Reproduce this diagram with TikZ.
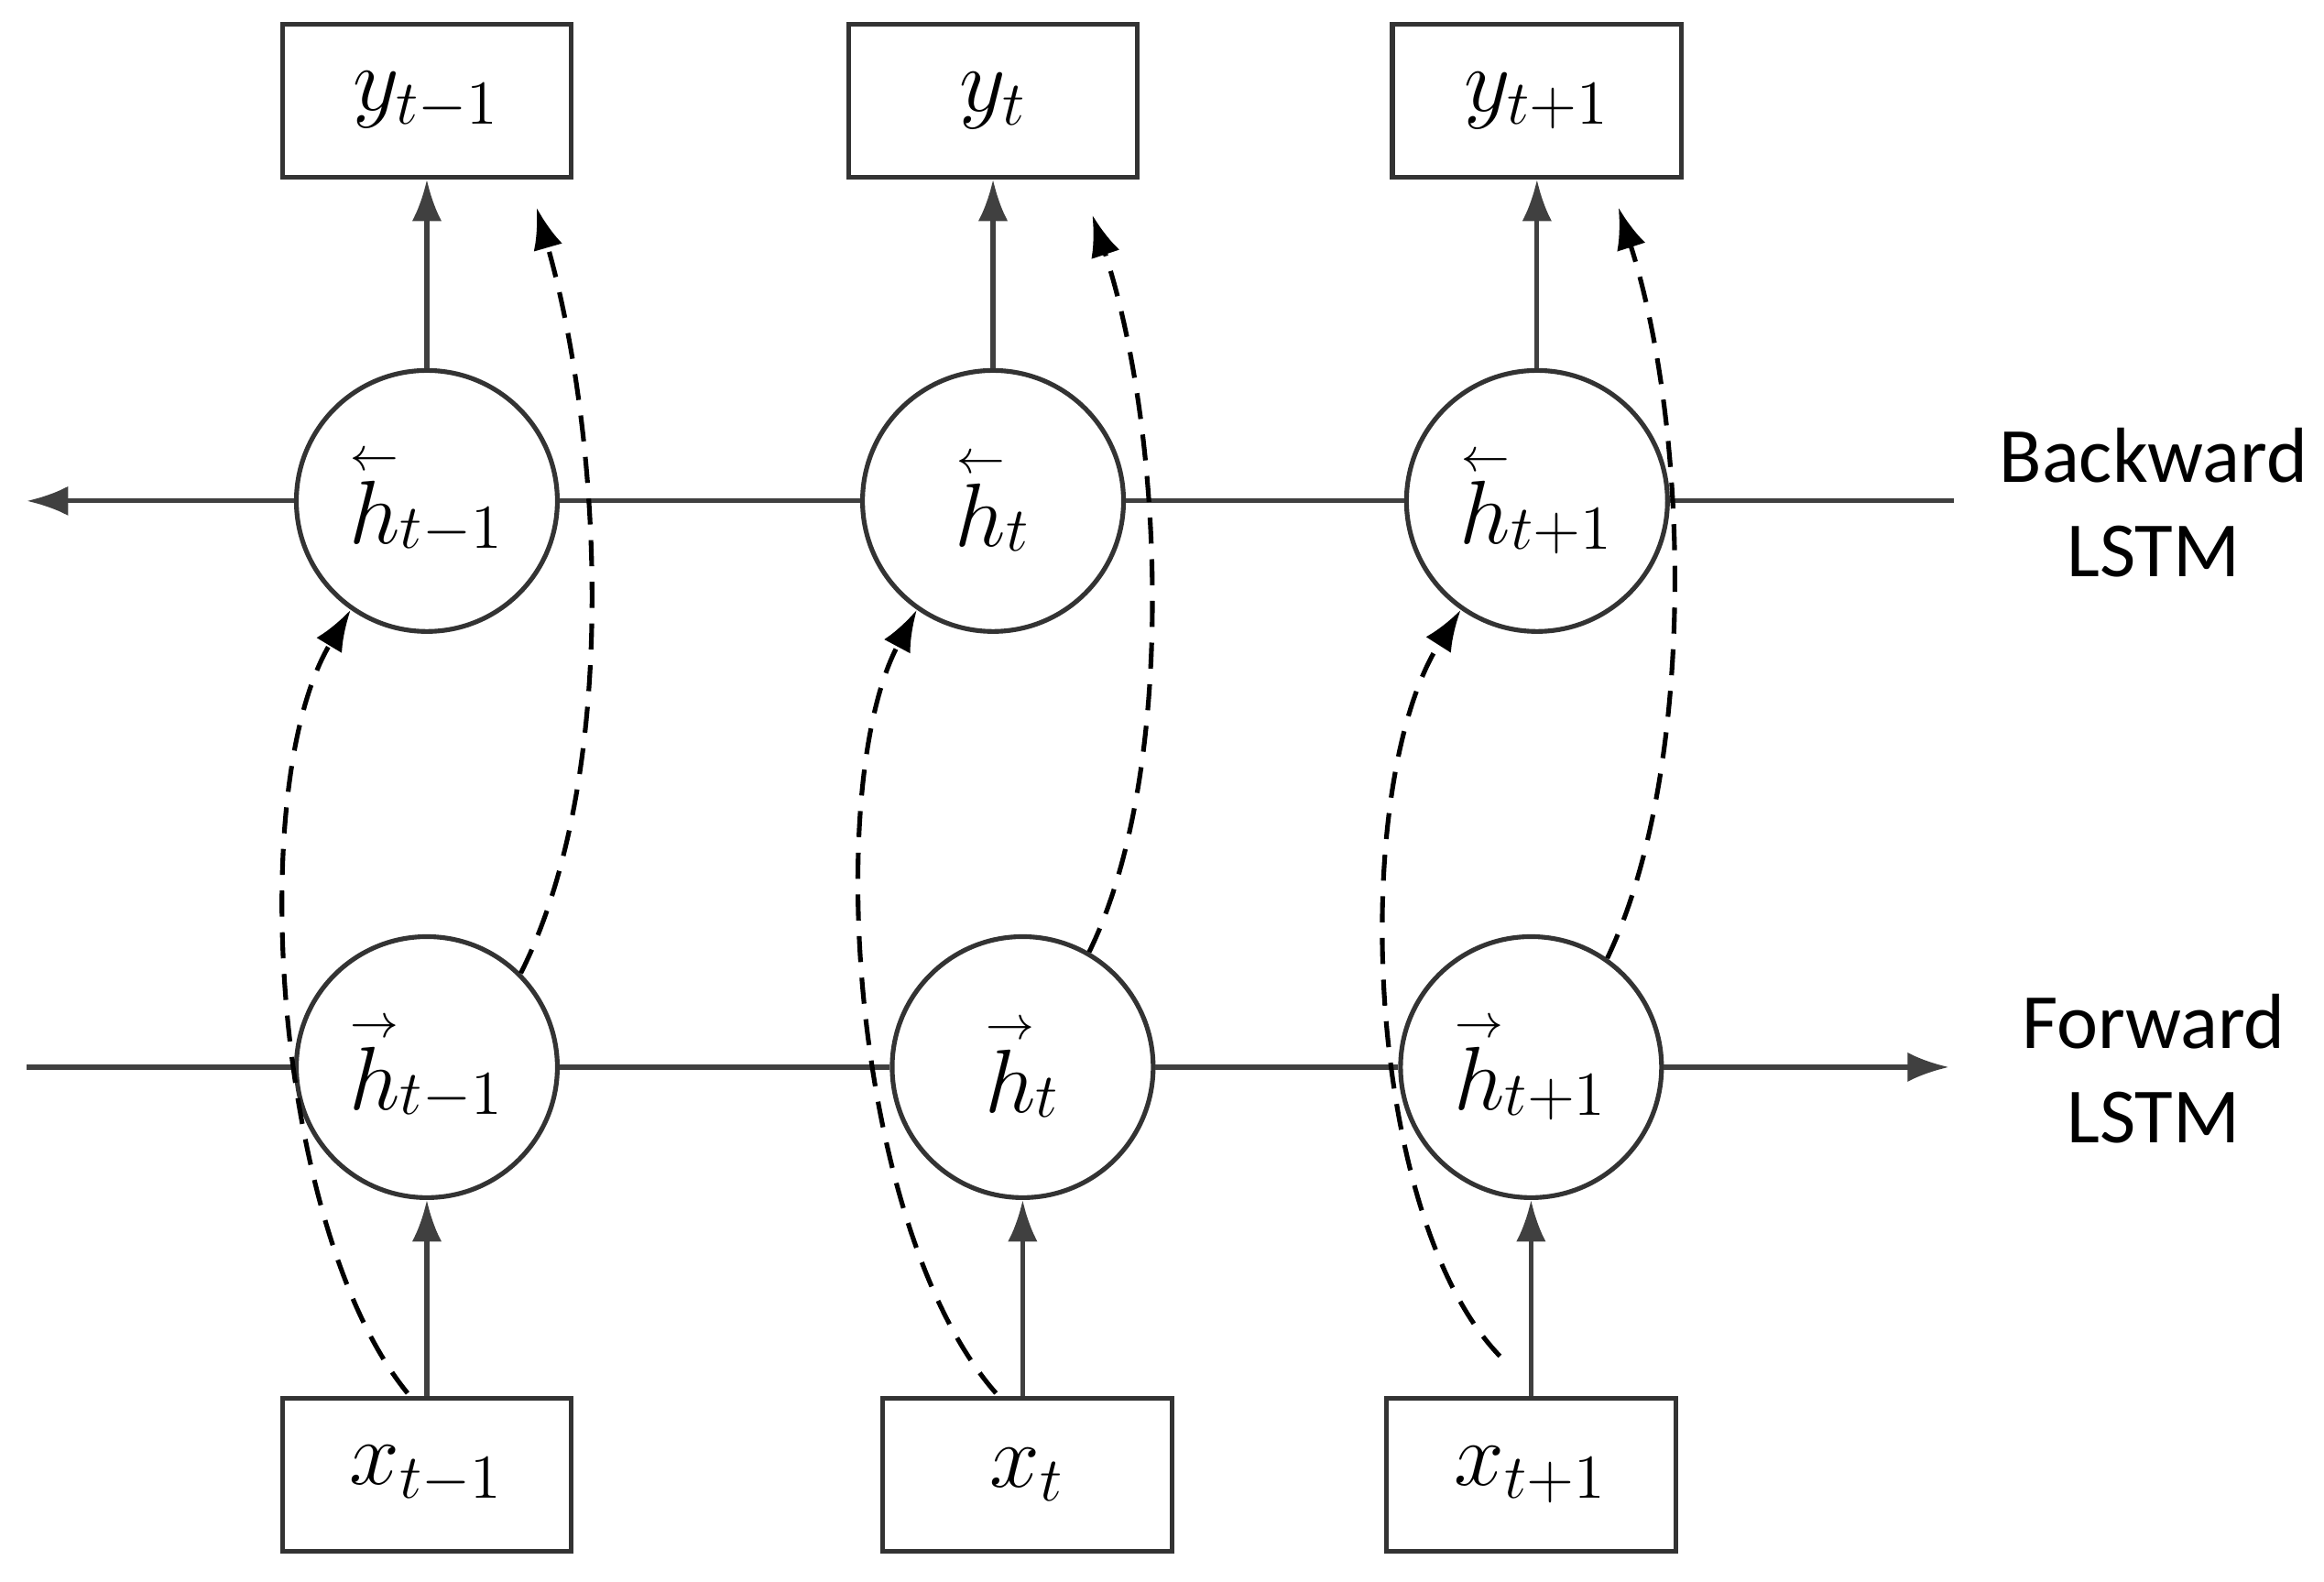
\documentclass[tikz,border=0pt]{standalone}
\usepackage{fontspec}
\newfontfamily\lab{Carlito}
\usetikzlibrary{arrows.meta}
\newcommand{\lh}{\stackrel{\scriptscriptstyle\leftarrow}{h}}
\newcommand{\rh}{\stackrel{\scriptscriptstyle\rightarrow}{h}}
\begin{document}
\begin{tikzpicture}[x=0.01cm,y=-0.01cm,
  line width=0.9pt, draw={black!75},
  box/.style={draw=black!80,rectangle,minimum width=1.95cm,minimum height=1.03cm,font=\fontsize{18}{20}\selectfont},
  cell/.style={draw=black!80,circle,minimum size=1.76cm,inner sep=0pt,font=\fontsize{18}{20}\selectfont},
  arr/.style={-{Latex[length=0.28cm,width=0.2cm]}},
  dsh/.style={arr,dashed,dash pattern=on 5pt off 3pt,draw=black},
  lbl/.style={font=\lab\fontsize{15}{18}\selectfont,align=center}]
\useasboundingbox (0,0) rectangle (1568,1067);
\node[box] (y1) at (288,68) {$y_{t-1}$};
\node[box] (y2) at (670,68) {$y_{t}$};
\node[box] (y3) at (1037,68) {$y_{t+1}$};
\node[box] (x1) at (288,995) {$x_{t-1}$};
\node[box] (x2) at (693,995) {$x_{t}$};
\node[box] (x3) at (1033,995) {$x_{t+1}$};
\node[cell] (b1) at (288,338) {$\lh_{t-1}$};
\node[cell] (b2) at (670,338) {$\lh_{t}$};
\node[cell] (b3) at (1037,338) {$\lh_{t+1}$};
\node[cell] (f1) at (288,720) {$\rh_{t-1}$};
\node[cell] (f2) at (690,720) {$\rh_{t}$};
\node[cell] (f3) at (1033,720) {$\rh_{t+1}$};
\coordinate (bs) at (1318,338); \coordinate (be) at (18,338);
\coordinate (fs) at (18,720); \coordinate (fe) at (1315,720);
\draw (bs) -- (b3) (b3) -- (b2) (b2) -- (b1);
\draw[arr] (b1) -- (be);
\draw (fs) -- (f1) (f1) -- (f2) (f2) -- (f3);
\draw[arr] (f3) -- (fe);
\node[lbl] (bl) at (1453,339) {Backward\\LSTM};
\node[lbl] (fl) at (1453,721) {Forward\\LSTM};
\foreach \i in {1,2,3}{
  \draw[arr] (x\i.north -| f\i.south) -- (f\i.south);
  \draw[arr] (b\i.north) -- (b\i.north |- y\i.south);
}
\coordinate (a1) at (275,940); \coordinate (a2) at (672,940); \coordinate (a3) at (1012,915);
\draw[dsh] (a1) .. controls (185,830) and (165,530) .. (b1.235);
\draw[dsh] (a2) .. controls (575,830) and (555,530) .. (b2.235);
\draw[dsh] (a3) .. controls (920,820) and (910,530) .. (b3.235);
\coordinate (t1) at (362,140); \coordinate (t2) at (737,145); \coordinate (t3) at (1092,140);
\draw[dsh] (f1.45) .. controls (420,520) and (405,290) .. (t1);
\draw[dsh] (f2.60) .. controls (795,520) and (785,290) .. (t2);
\draw[dsh] (f3.55) .. controls (1145,520) and (1140,290) .. (t3);
\end{tikzpicture}
\end{document}
